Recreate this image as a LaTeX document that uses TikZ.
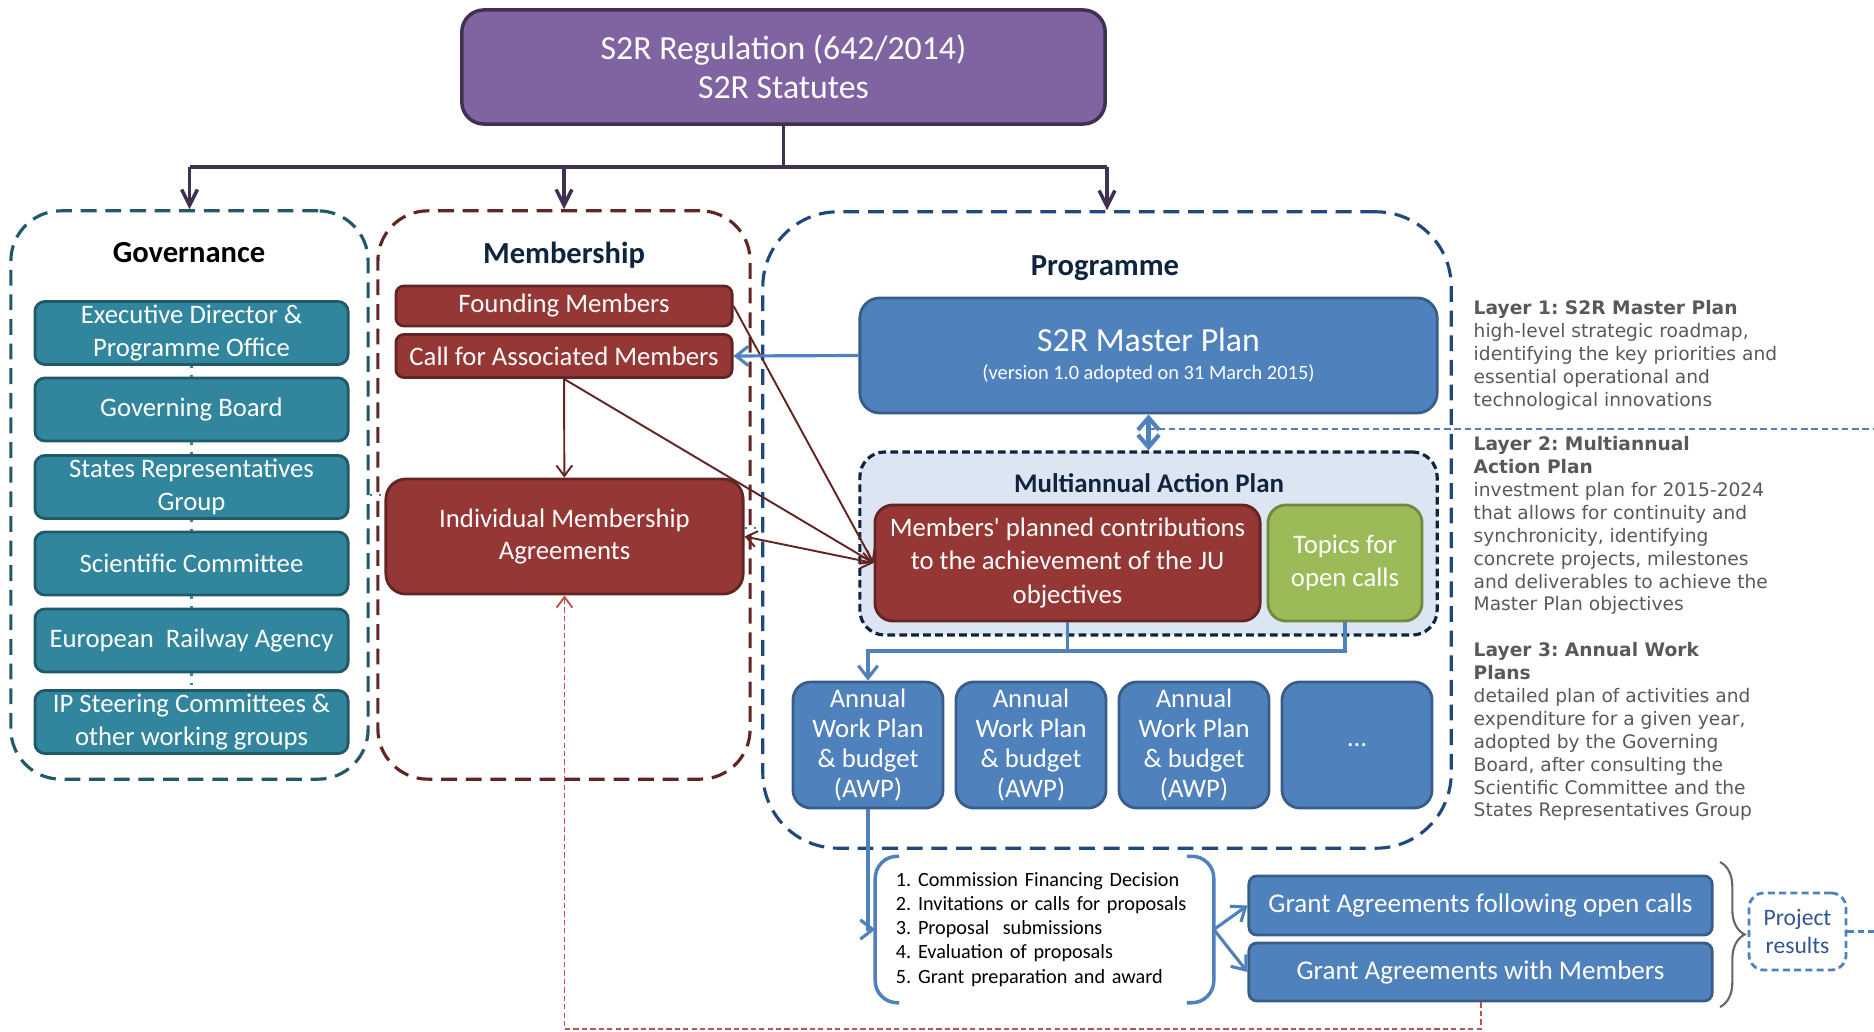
\documentclass[tikz,border=0pt]{standalone}
\usepackage{fontspec}
\setmainfont{Carlito}
\newfontfamily\layerfamily{DejaVu Sans}
\usepackage{tikz}
\usetikzlibrary{arrows.meta,decorations.pathreplacing}
\frenchspacing

\definecolor{purplefill}{HTML}{8064A2}
\definecolor{purpleline}{HTML}{3F3151}
\definecolor{tealfill}{HTML}{31859C}
\definecolor{tealline}{HTML}{215968}
\definecolor{redfill}{HTML}{953735}
\definecolor{redline}{HTML}{632523}
\definecolor{bluefill}{HTML}{4F81BD}
\definecolor{blueline}{HTML}{385D8A}
\definecolor{greenfill}{HTML}{9BBB59}
\definecolor{greenline}{HTML}{71893F}
\definecolor{navy}{HTML}{1F497D}
\definecolor{darknavy}{HTML}{0F243E}
\definecolor{mapfill}{HTML}{DCE6F2}
\definecolor{feedred}{HTML}{C0504D}
\definecolor{layergrey}{HTML}{595959}
\definecolor{resultblue}{HTML}{2F5597}

\newcommand\boxfont{\fontsize{7.6}{9.2}\selectfont}
\newcommand\headfont{\bfseries\fontsize{8.7}{10}\selectfont}
\newcommand\stepfont{\fontsize{5.75}{6.85}\selectfont}
\newcommand\layerfont{\layerfamily\fontsize{5.3}{6.5}\selectfont}

\tikzset{
  pillar/.style={draw=#1, dash pattern=on 4.5pt off 2.5pt, line width=0.9pt,
    rounded corners=0.5cm, inner sep=0pt},
  heading/.style={font=\headfont, inner sep=0pt},
  filledbox/.style 2 args={draw=#1, fill=#2, line width=0.8pt, text=white,
    align=center, font=\boxfont, inner sep=0pt},
  topbox/.style={filledbox={purpleline}{purplefill}, line width=1pt,
    rounded corners=0.22cm, font=\fontsize{9.6}{11.2}\selectfont},
  govbox/.style={filledbox={tealline}{tealfill}, rounded corners=0.1cm,
    minimum width=3.13cm, minimum height=0.63cm},
  membox/.style={filledbox={redline}{redfill}, rounded corners=0.08cm},
  bluebox/.style={filledbox={blueline}{bluefill}, rounded corners=0.18cm},
  awpbox/.style={bluebox, minimum width=1.5cm, minimum height=1.26cm,
    font=\fontsize{7.6}{8.5}\selectfont},
  gabox/.style={bluebox, rounded corners=0.08cm, minimum width=4.63cm,
    font=\fontsize{7.7}{9}\selectfont},
  mapframe/.style={draw=darknavy, fill=mapfill, line width=0.9pt,
    dash pattern=on 2.2pt off 1.2pt, rounded corners=0.25cm, inner sep=0pt},
  resultbox/.style={draw=bluefill, line width=0.8pt, dash pattern=on 2pt off 1.2pt,
    rounded corners=0.15cm, text=resultblue, align=center,
    font=\fontsize{6.7}{8.2}\selectfont, minimum width=0.97cm, minimum height=0.77cm},
  layertext/.style={anchor=north west, inner sep=0pt, align=left,
    font=\layerfont, text=layergrey},
  statline/.style={draw=purpleline, line width=1pt,
    >={Straight Barb[length=4.5pt,width=4.5pt]}},
  redarrow/.style={draw=redline, line width=0.55pt,
    >={Straight Barb[length=3pt,width=4.5pt]}},
  flow/.style={draw=bluefill, line width=0.9pt,
    >={Straight Barb[length=3.5pt,width=5.5pt]}},
  bigarrow/.style={draw=bluefill, line width=1.2pt,
    >={Straight Barb[length=3.5pt,width=6pt]}},
  bluedash/.style={draw=bluefill, line width=0.6pt, dash pattern=on 1.8pt off 1.1pt},
  feeddash/.style={draw=feedred, line width=0.55pt, dash pattern=on 1.5pt off 0.9pt,
    >={Straight Barb[length=3pt,width=4.5pt]}},
  linkdot/.style={draw=tealfill, line width=0.6pt, dotted},
  bracket/.style={draw=bluefill, line width=1pt, rounded corners=0.22cm},
}

\begin{document}
\begin{tikzpicture}[x=0.01cm, y=-0.01cm]
\useasboundingbox (0,0) rectangle (1874,1031);

% statutes
\node[topbox, minimum width=6.43cm, minimum height=1.14cm] (s2r) at (783.5,67)
  {S2R Regulation (642/2014)\\S2R Statutes};

% the three pillars
\node[pillar=tealline, minimum width=3.57cm, minimum height=5.68cm] (gov) at (189.5,495) {};
\node[pillar=redline, minimum width=3.72cm, minimum height=5.68cm] (mem) at (564,495) {};
\node[pillar=navy, rounded corners=0.75cm, minimum width=6.88cm, minimum height=6.36cm] (prog) at (1107,530) {};

\node[heading] (govtitle) at (189,253) {Governance};
\node[heading, text=darknavy] (memtitle) at (564,255) {Membership};
\node[heading, text=darknavy] (progtitle) at (1105,268) {Programme};

\coordinate (split) at (783.5,167);
\draw[statline] (s2r.south) -- (split);
\draw[statline, line width=1.4pt] (gov.north |- split) -- (prog.north |- split);
\foreach \f in {gov,mem,prog}
  \draw[statline, ->] (\f.north |- split) -- (\f.north);

% governance bodies
\node[govbox] (g1) at (191.5,333) {Executive Director \&\\Programme Office};
\node[govbox] (g2) at (191.5,409.5) {Governing Board};
\node[govbox] (g3) at (191.5,487) {States Representatives\\Group};
\node[govbox] (g4) at (191.5,563.5) {Scientific Committee};
\node[govbox] (g5) at (191.5,640.5) {European\ \ Railway Agency};
\node[govbox] (g6) at (191.5,722) {IP Steering Committees \&\\other working groups};
\foreach \a/\b in {g1/g2,g2/g3,g3/g4,g4/g5,g5/g6}
  \draw[linkdot] (\a) -- (\b);

% membership
\node[membox, minimum width=3.36cm, minimum height=0.40cm] (found) at (564,306) {Founding Members};
\node[membox, minimum width=3.36cm, minimum height=0.43cm] (assoc) at (564,356) {Call for Associated Members};
\node[membox, rounded corners=0.2cm, minimum width=3.57cm, minimum height=1.15cm] (ima) at (564.5,536.5)
  {Individual Membership\\Agreements};

% programme: master plan and action plan
\node[bluebox, rounded corners=0.2cm, minimum width=5.77cm, minimum height=1.15cm,
  font=\fontsize{9.6}{11}\selectfont] (mp) at (1148.5,355.5)
  {S2R Master Plan\\[-3pt]{\fontsize{5.8}{7}\selectfont (version 1.0 adopted on 31 March 2015)}};
\node[mapframe, minimum width=5.77cm, minimum height=1.83cm] (map) at (1148.5,543.5) {};
\node[heading, font=\bfseries\fontsize{7.65}{9}\selectfont, text=darknavy] (maptitle) at (1149,483)
  {Multiannual Action Plan};
\node[membox, rounded corners=0.18cm, minimum width=3.85cm, minimum height=1.16cm,
  font=\fontsize{7.6}{9.4}\selectfont] (mpc) at (1067.5,563)
  {Members\textquotesingle{} planned contributions\\to the achievement of the JU\\objectives};
\node[filledbox={greenline}{greenfill}, rounded corners=0.18cm, minimum width=1.54cm,
  minimum height=1.16cm] (topics) at (1345,563) {Topics for\\open calls};

% annual work plans
\node[awpbox] (awp1) at (868,745) {Annual\\Work Plan\\\& budget\\(AWP)};
\node[awpbox] (awp2) at (1031,745) {Annual\\Work Plan\\\& budget\\(AWP)};
\node[awpbox] (awp3) at (1194,745) {Annual\\Work Plan\\\& budget\\(AWP)};
\node[awpbox] (awp4) at (1357,745) {\dots};

% calls and grants
\node[text width=2.97cm, inner xsep=0.2cm, inner ysep=0pt, minimum height=1.45cm,
  align=left, font=\stepfont] (steps) at (1044.5,929.5)
  {1. Commission Financing Decision\\2. Invitations or calls for proposals\\3. Proposal\ \ submissions\\4. Evaluation of proposals\\5. Grant preparation and award};
\draw[bracket] ([xshift=0.24cm]steps.north west) -- (steps.north west)
  -- (steps.south west) -- ([xshift=0.24cm]steps.south west);
\draw[bracket] ([xshift=-0.27cm]steps.north east) -- (steps.north east)
  -- (steps.south east) -- ([xshift=-0.27cm]steps.south east);

\node[gabox, minimum height=0.59cm] (ga1) at (1480.5,905.5) {Grant Agreements following open calls};
\node[gabox, minimum height=0.58cm] (ga2) at (1480.5,972) {Grant Agreements with Members};
\draw[draw=gray!80!black, line width=0.6pt, decorate, decoration={brace, amplitude=7pt}]
  (1720,862) -- (1720,1007);
\node[resultbox] (results) at (1797.5,931.5) {Project\\results};

% layer descriptions
\node[layertext] (layer1) at (1473,300)
  {\textbf{Layer 1: S2R Master Plan}\\high-level strategic roadmap,\\identifying the key priorities and\\essential operational and\\technological innovations};
\node[layertext] (layer2) at (1473,436)
  {\textbf{Layer 2: Multiannual}\\\textbf{Action Plan}\\investment plan for 2015-2024\\that allows for continuity and\\synchronicity, identifying\\concrete projects, milestones\\and deliverables to achieve the\\Master Plan objectives};
\node[layertext] (layer3) at (1473,642)
  {\textbf{Layer 3: Annual Work}\\\textbf{Plans}\\detailed plan of activities and\\expenditure for a given year,\\adopted by the Governing\\Board, after consulting the\\Scientific Committee and the\\States Representatives Group};

% links
\coordinate (govlink) at (0,495);
\coordinate (proglink) at (0,528);
\draw[linkdot] (gov.east |- govlink) -- (ima.west |- govlink);
\draw[linkdot] (ima.east |- proglink) -- (prog.west |- proglink);

\draw[redarrow, ->] (assoc) -- (ima);
\draw[redarrow, ->] (found.east) -- (mpc.west);
\draw[redarrow, ->] (assoc.south) -- (mpc.west);
\draw[redarrow, <->] (ima.east) -- (mpc.west);

\draw[flow, ->] (mp.west) -- (assoc.east);
\coordinate (layerend) at (1874,429);
\draw[bluedash] (mp.south |- layerend) -- (layerend);
\draw[bigarrow, <->] (mp) -- (map);

\coordinate (bus) at (0,651);
\draw[flow] (mpc.south) -- (mpc.south |- bus);
\draw[flow, ->] (topics.south) -- (topics.south |- bus) -| (awp1.north);
\draw[flow, ->] (awp1.south) |- (steps.west);
\draw[flow, ->] (steps.east) -- (ga1.west);
\draw[flow, ->] (steps.east) -- (ga2.west);

\coordinate (rightend) at (1874,931.5);
\draw[bluedash] (results) -- (rightend);

\coordinate (feedback) at (0,1029);
\draw[feeddash, ->] (ga2.south) -- (ga2.south |- feedback) -| (ima.south);
\end{tikzpicture}
\end{document}
